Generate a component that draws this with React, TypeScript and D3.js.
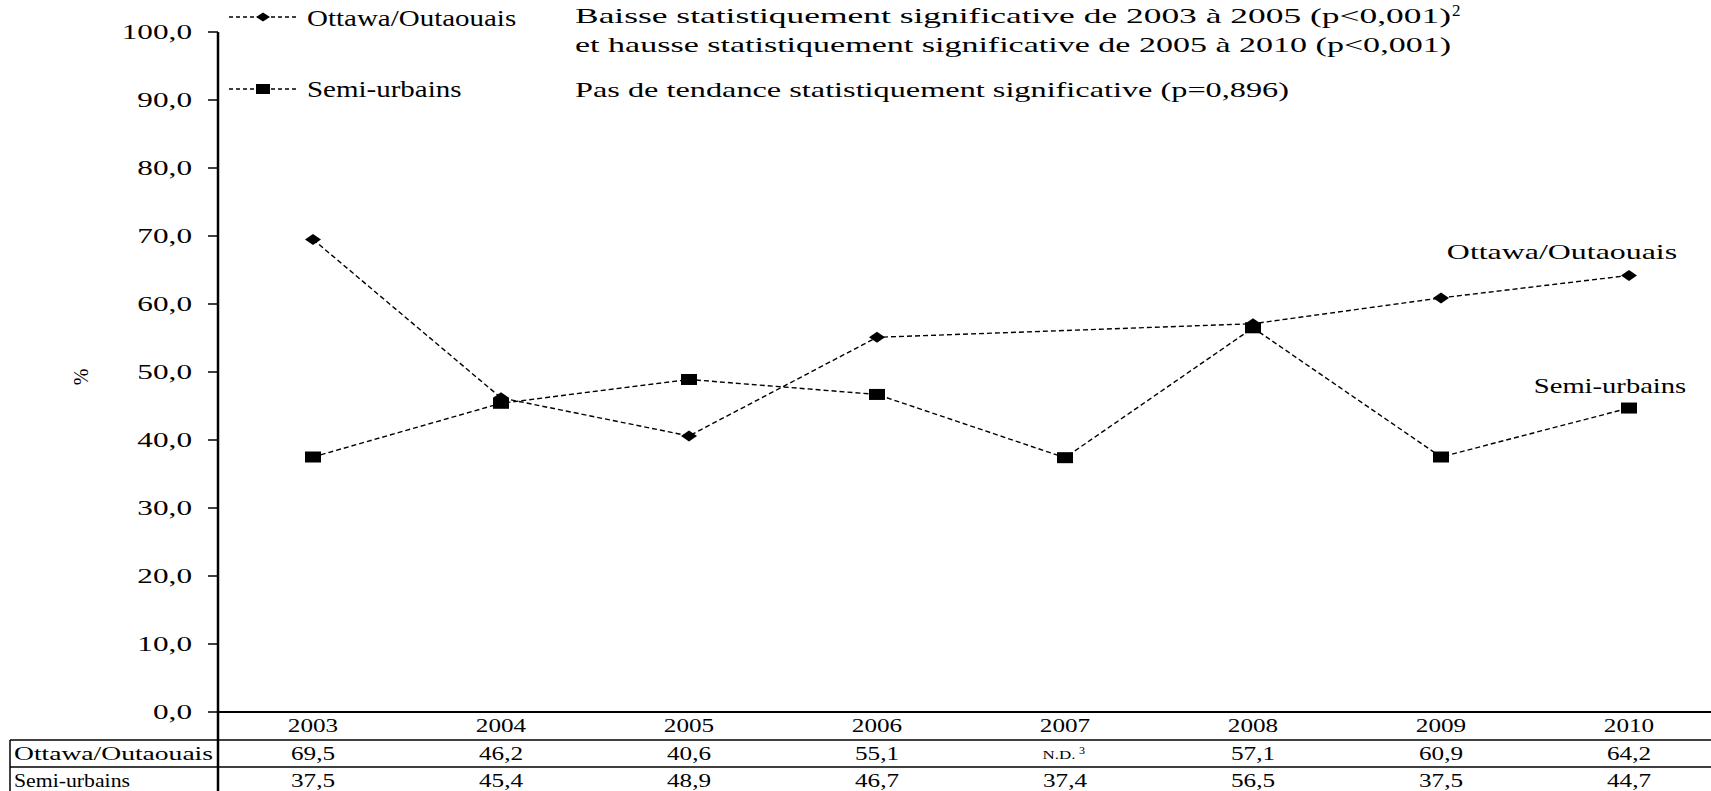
import React from 'react';
import * as d3 from 'd3';

const YEARS = ['2003', '2004', '2005', '2006', '2007', '2008', '2009', '2010'];
const OTTAWA: (number | null)[] = [69.5, 46.2, 40.6, 55.1, null, 57.1, 60.9, 64.2];
const SEMI: (number | null)[] = [37.5, 45.4, 48.9, 46.7, 37.4, 56.5, 37.5, 44.7];
const SERIES_NAMES = ['Ottawa/Outaouais', 'Semi-urbains'];
const Y_TICKS = [0, 10, 20, 30, 40, 50, 60, 70, 80, 90, 100];
const NOTE_OTTAWA_1 = 'Baisse statistiquement significative de 2003 à 2005 (p<0,001)';
const NOTE_OTTAWA_2 = 'et hausse statistiquement significative de 2005 à 2010 (p<0,001)';
const NOTE_SEMI = 'Pas de tendance statistiquement significative (p=0,896)';
const MISSING = 'N.D.';
const Y_LABEL = '%';

const W = 1711;
const H = 791;
const SERIF = '"Liberation Serif", "DejaVu Serif", serif';
const SX = 1.38;

const fmt = (v: number) => d3.format('.1f')(v).replace('.', ',');

function T(props: any) {
  const { x, y, size = 22, anchor = 'start', sx = SX, children, ...rest } = props;
  return (
    <text
      transform={`translate(${x},${y}) scale(${sx},1)`}
      fontSize={size}
      textAnchor={anchor}
      fontFamily={SERIF}
      fill="#000"
      {...rest}
    >
      {children}
    </text>
  );
}

function Diamond({ x, y, w = 16, h = 11 }: any) {
  return <path d={`M${x - w / 2},${y}L${x},${y - h / 2}L${x + w / 2},${y}L${x},${y + h / 2}Z`} fill="#000" />;
}
function Square({ x, y, w = 16, h = 11 }: any) {
  return <rect x={x - w / 2} y={y - h / 2} width={w} height={h} fill="#000" />;
}

export default function App() {
  const x = d3.scaleBand<string>().domain(YEARS).range([219, 219 + 188 * YEARS.length]).padding(0);
  const cx = (yr: string) => (x(yr) as number) + x.bandwidth() / 2;
  const y = d3.scaleLinear().domain([0, 100]).range([712, 32]);

  const toPts = (vals: (number | null)[]) =>
    YEARS.map((yr, i) => ({ yr, v: vals[i] })).filter((d) => d.v != null) as { yr: string; v: number }[];
  const line = d3
    .line<{ yr: string; v: number }>()
    .x((d) => cx(d.yr))
    .y((d) => y(d.v));

  const ott = toPts(OTTAWA);
  const semi = toPts(SEMI);
  const axisX = 218;
  const rowTop = 740;
  const rowMid = 767;

  const lastOtt = ott[ott.length - 1];
  const lastSemi = semi[semi.length - 1];
  const dash = '5,3';

  return (
    <svg width={W} height={H} style={{ position: 'fixed', left: 0, top: 0, background: '#fff' }}>
      <rect x={0} y={0} width={W} height={H} fill="#fff" />
      {/* y axis */}
      <line x1={axisX} x2={axisX} y1={y(100)} y2={H} stroke="#000" strokeWidth={2.5} />
      {Y_TICKS.map((t) => (
        <g key={t}>
          <line x1={axisX - 10} x2={axisX} y1={y(t)} y2={y(t)} stroke="#000" strokeWidth={1.5} />
          <T x={192} y={y(t) + 7} size={22} anchor="end" sx={1.42}>
            {fmt(t)}
          </T>
        </g>
      ))}
      <text transform={`translate(88,377) rotate(-90)`} fontSize={20} textAnchor="middle" fontFamily={SERIF}>
        {Y_LABEL}
      </text>
      {/* x axis */}
      <line x1={axisX} x2={W} y1={y(0)} y2={y(0)} stroke="#000" strokeWidth={2.2} />

      {/* series lines */}
      <path d={line(ott) || ''} fill="none" stroke="#000" strokeWidth={1.4} strokeDasharray={dash} />
      <path d={line(semi) || ''} fill="none" stroke="#000" strokeWidth={1.4} strokeDasharray={dash} />
      {semi.map((d) => (
        <Square key={'s' + d.yr} x={cx(d.yr)} y={y(d.v)} />
      ))}
      {ott.map((d) => (
        <Diamond key={'o' + d.yr} x={cx(d.yr)} y={y(d.v)} />
      ))}

      {/* end labels */}
      <T x={cx(lastOtt.yr) - 67} y={y(lastOtt.v) - 16} size={22} anchor="middle" sx={1.45}>
        {SERIES_NAMES[0]}
      </T>
      <T x={cx(lastSemi.yr) - 19} y={y(lastSemi.v) - 15} size={22} anchor="middle" sx={1.3}>
        {SERIES_NAMES[1]}
      </T>

      {/* legend */}
      <line x1={229} x2={297} y1={17} y2={17} stroke="#000" strokeWidth={1.3} strokeDasharray="4,3" />
      <Diamond x={263} y={17} w={14} h={9} />
      <T x={307} y={26} size={23} sx={1.26}>
        {SERIES_NAMES[0]}
      </T>
      <line x1={229} x2={297} y1={89} y2={89} stroke="#000" strokeWidth={1.3} strokeDasharray="4,3" />
      <Square x={263} y={89} w={14} h={10} />
      <T x={307} y={97} size={23} sx={1.26}>
        {SERIES_NAMES[1]}
      </T>

      {/* notes */}
      <text x={575} y={23} fontSize={22} fontFamily={SERIF} textLength={876} lengthAdjust="spacingAndGlyphs">
        {NOTE_OTTAWA_1}
      </text>
      <text x={1452} y={16} fontSize={17} fontFamily={SERIF}>
        2
      </text>
      <text x={575} y={52} fontSize={22} fontFamily={SERIF} textLength={876} lengthAdjust="spacingAndGlyphs">
        {NOTE_OTTAWA_2}
      </text>
      <text x={575} y={97} fontSize={22} fontFamily={SERIF} textLength={714} lengthAdjust="spacingAndGlyphs">
        {NOTE_SEMI}
      </text>

      {/* table */}
      {YEARS.map((yr) => (
        <T key={'y' + yr} x={cx(yr)} y={732} size={18} anchor="middle" sx={1.4}>
          {yr}
        </T>
      ))}
      <line x1={10} x2={W} y1={rowTop} y2={rowTop} stroke="#000" strokeWidth={1.5} />
      <line x1={10} x2={W} y1={rowMid} y2={rowMid} stroke="#000" strokeWidth={1.5} />
      <line x1={10} x2={10} y1={rowTop} y2={H} stroke="#000" strokeWidth={1.5} />
      <text x={14} y={760} fontSize={18} fontFamily={SERIF} textLength={199} lengthAdjust="spacingAndGlyphs">
        {SERIES_NAMES[0]}
      </text>
      <text x={14} y={787} fontSize={18} fontFamily={SERIF} textLength={116} lengthAdjust="spacingAndGlyphs">
        {SERIES_NAMES[1]}
      </text>
      {YEARS.map((yr, i) => {
        const v = OTTAWA[i];
        return v == null ? (
          <g key={'ot' + yr}>
            <T x={cx(yr) - 6} y={759} size={13} anchor="middle" sx={1.3}>
              {MISSING}
            </T>
            <T x={cx(yr) + 17} y={754} size={10} anchor="middle" sx={1.2}>
              3
            </T>
          </g>
        ) : (
          <T key={'ot' + yr} x={cx(yr)} y={760} size={18} anchor="middle" sx={1.4}>
            {fmt(v)}
          </T>
        );
      })}
      {YEARS.map((yr, i) => {
        const v = SEMI[i];
        return (
          <T key={'sm' + yr} x={cx(yr)} y={787} size={18} anchor="middle" sx={1.4}>
            {v == null ? MISSING : fmt(v)}
          </T>
        );
      })}
    </svg>
  );
}
